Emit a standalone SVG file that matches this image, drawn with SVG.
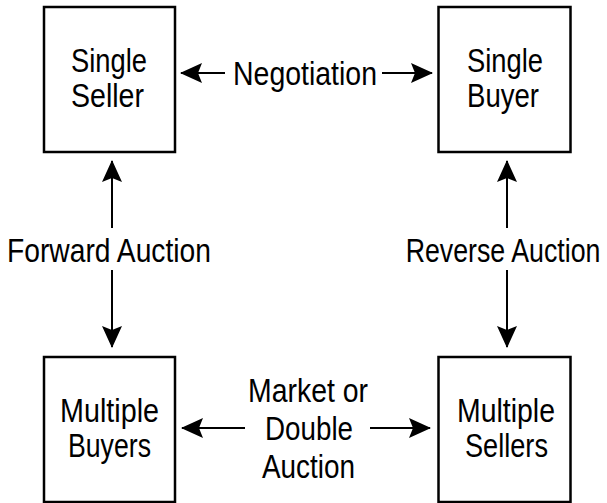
<svg xmlns="http://www.w3.org/2000/svg" width="607" height="503" viewBox="0 0 607 503">
<style>
.box{fill:#fff;stroke:#000;stroke-width:2.5}
.t{font-family:"Liberation Sans",Arial,sans-serif;font-size:34px;fill:#000;text-anchor:middle}
.c{stroke:#000;stroke-width:2;fill:none;marker-end:url(#ah)}
</style>
<defs>
<marker id="ah" markerUnits="userSpaceOnUse" viewBox="0 0 22 22" markerWidth="22" markerHeight="22" refX="21" refY="11" orient="auto">
<path d="M0,1 L22,11 L0,21 L4,11 Z" fill="#000"/>
</marker>
</defs>
<rect width="607" height="503" fill="#fff"/>
<g id="connectors">
<line class="c" x1="225" y1="73" x2="181" y2="73"/>
<line class="c" x1="382" y1="73" x2="432" y2="73"/>
<line class="c" x1="112" y1="228" x2="112" y2="161"/>
<line class="c" x1="112" y1="270" x2="112" y2="347"/>
<line class="c" x1="507" y1="228" x2="507" y2="161"/>
<line class="c" x1="507" y1="270" x2="507" y2="347"/>
<line class="c" x1="245" y1="428" x2="182" y2="428"/>
<line class="c" x1="370" y1="428" x2="430" y2="428"/>
<text class="t" x="305" y="85" textLength="144" lengthAdjust="spacingAndGlyphs">Negotiation</text>
<text class="t" x="109" y="262" textLength="204" lengthAdjust="spacingAndGlyphs">Forward Auction</text>
<text class="t" transform="translate(503,262) scale(0.787,1)" x="0" y="0">Reverse Auction</text>
<text class="t" x="308" y="402" textLength="120" lengthAdjust="spacingAndGlyphs">Market or</text>
<text class="t" x="309" y="440" textLength="88" lengthAdjust="spacingAndGlyphs">Double</text>
<text class="t" x="308.5" y="478" textLength="93" lengthAdjust="spacingAndGlyphs">Auction</text>
</g>
<g id="single-seller">
<rect class="box" x="44" y="7" width="131" height="145"/>
<text class="t" x="109" y="72" textLength="76" lengthAdjust="spacingAndGlyphs">Single</text>
<text class="t" x="107.5" y="107" textLength="73" lengthAdjust="spacingAndGlyphs">Seller</text>
</g>
<g id="single-buyer">
<rect class="box" x="438.5" y="7" width="132" height="145"/>
<text class="t" x="505" y="72" textLength="76" lengthAdjust="spacingAndGlyphs">Single</text>
<text class="t" x="503" y="107" textLength="72" lengthAdjust="spacingAndGlyphs">Buyer</text>
</g>
<g id="multiple-buyers">
<rect class="box" x="44" y="357" width="131" height="145"/>
<text class="t" x="109.5" y="422" textLength="99" lengthAdjust="spacingAndGlyphs">Multiple</text>
<text class="t" x="109.5" y="457" textLength="83" lengthAdjust="spacingAndGlyphs">Buyers</text>
</g>
<g id="multiple-sellers">
<rect class="box" x="438.5" y="357" width="132" height="145"/>
<text class="t" x="506" y="422" textLength="98" lengthAdjust="spacingAndGlyphs">Multiple</text>
<text class="t" x="506.5" y="457" textLength="83" lengthAdjust="spacingAndGlyphs">Sellers</text>
</g>
</svg>
